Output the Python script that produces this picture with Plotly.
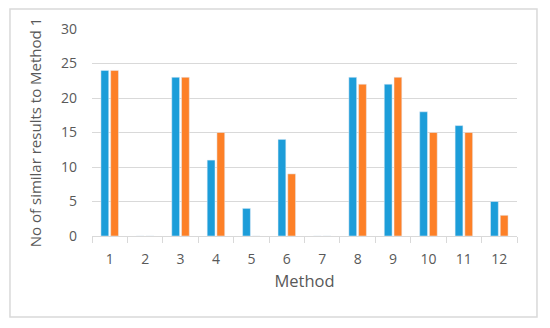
import plotly.graph_objects as go

categories = ["1", "2", "3", "4", "5", "6", "7", "8", "9", "10", "11", "12"]
series_a = [24, 0, 23, 11, 4, 14, 0, 23, 22, 18, 16, 5]
series_b = [24, 0, 23, 15, 0, 9, 0, 22, 23, 15, 15, 3]

fig = go.Figure()
fig.add_trace(go.Bar(x=categories, y=series_a, marker_color="#1c9dd9", name="A"))
fig.add_trace(go.Bar(x=categories, y=series_b, marker_color="#fd8027", name="B"))

font_color = "#595959"
fig.update_layout(
    width=542, height=320,
    margin=dict(l=84, r=33, t=21, b=92),
    paper_bgcolor="white", plot_bgcolor="white",
    showlegend=False,
    barmode="group", bargap=0.45, bargroupgap=0.2,
    font=dict(family="Open Sans, sans-serif", color=font_color, size=14),
    xaxis=dict(
        type="category", tickson="boundaries", ticks="outside", ticklen=6,
        tickcolor="#d9d9d9", showline=True, linecolor="#d9d9d9", linewidth=1,
        showgrid=False, tickfont=dict(size=14, color=font_color), ticklabelstandoff=10,
        title=dict(text="Method", font=dict(size=16.5, color=font_color), standoff=8),
    ),
    yaxis=dict(
        range=[0, 30], dtick=5, showgrid=True, gridcolor="#d9d9d9", gridwidth=1,
        zeroline=False, showline=False, ticks="", ticklabelstandoff=14,
        tickfont=dict(size=14, color=font_color),
        title=dict(text="No of similar results to Method 1", font=dict(size=15, color=font_color), standoff=15),
    ),
    shapes=[dict(type="rect", xref="paper", yref="paper",
                 x0=-0.193, x1=1.047, y0=-0.391, y1=1.097,
                 line=dict(color="#d9d9d9", width=1.5), fillcolor="rgba(0,0,0,0)", layer="below")],
)

fig.write_html("out.html")
